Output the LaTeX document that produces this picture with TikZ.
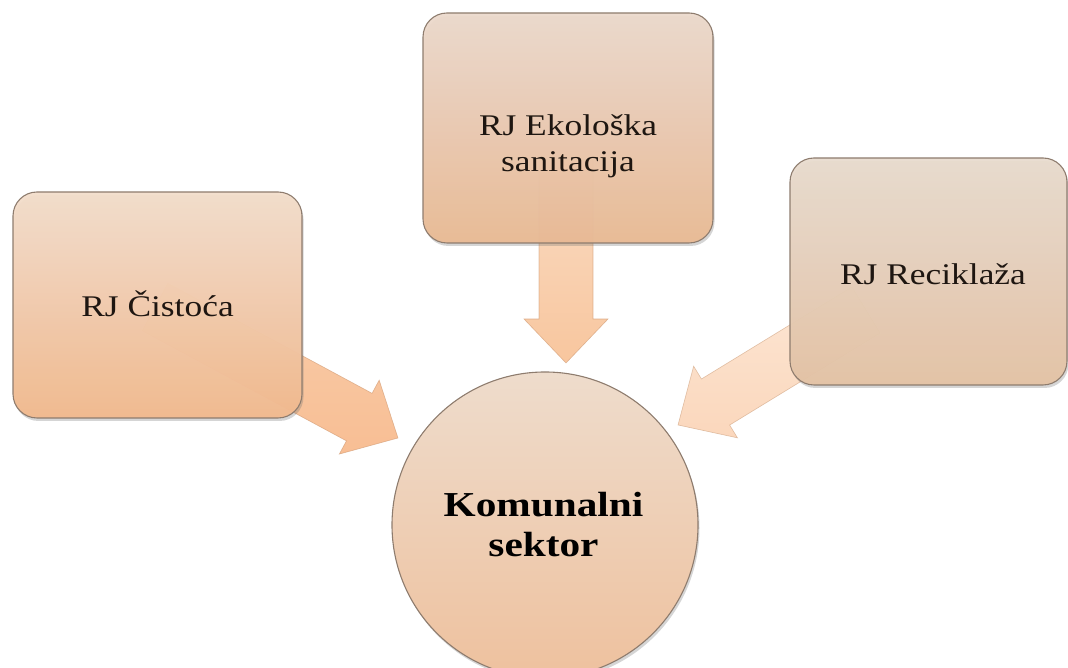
\documentclass[tikz,border=0pt]{standalone}
\usepackage{fontspec}
\setmainfont{Liberation Serif}
\newfontfamily\lblfont[FakeStretch=1.18]{Liberation Serif}
\usetikzlibrary{calc,shadows}
\definecolor{edgec}{HTML}{8E7C6E}
\definecolor{txtc}{HTML}{1E1611}
\newcommand\blockarrow[3]{%
  \path let \p1=($(#2)-(#1)$) in \pgfextra{%
    \pgfmathsetmacro\arrang{atan2(\y1,\x1)}%
    \pgfmathsetmacro\arrlen{veclen(\x1,\y1)}%
    \global\let\arrang\arrang\global\let\arrlen\arrlen};
  \begin{scope}[shift={(#1)},rotate=\arrang]
    \shade[#3] (0,-27) -- (\arrlen-44,-27) -- (\arrlen-44,-42) -- (\arrlen,0)
      -- (\arrlen-44,42) -- (\arrlen-44,27) -- (0,27) -- cycle;
  \end{scope}}
\begin{document}
\begin{tikzpicture}[x=1pt,y=1pt,
  boxnode/.style={draw=edgec, line width=1.1pt, rounded corners=24pt, fill opacity=0.965,
    inner sep=0pt, drop shadow={shadow xshift=1.5pt, shadow yshift=-3pt, opacity=.3, fill=black!55}},
  lbl/.style={text=txtc, inner sep=0pt, align=center, font=\lblfont\fontsize{30}{36}\selectfont}]
\useasboundingbox (0,0) rectangle (1068,668);
\clip (0,0) rectangle (1068,668);
% centres
\coordinate (cL) at (157.5,363);
\coordinate (cT) at (568,540);
\coordinate (cR) at (928.5,396.5);
\coordinate (cC) at (545,143);
% arrow ends
\coordinate (tailL) at (155,361);
\coordinate (tipL) at (398,230);
\coordinate (tailT) at (566,508);
\coordinate (tipT) at (566,305);
\coordinate (tailR) at (866,358);
\coordinate (tipR) at (678,243);
% arrows
\blockarrow{tailL}{tipL}{top color={rgb,255:red,249;green,205;blue,170}, bottom color={rgb,255:red,248;green,190;blue,148}, draw={rgb,255:red,205;green,150;blue,110}, draw opacity=.6, line width=.6pt}
\blockarrow{tailT}{tipT}{top color={rgb,255:red,250;green,220;blue,196}, bottom color={rgb,255:red,248;green,198;blue,158}, draw={rgb,255:red,205;green,150;blue,110}, draw opacity=.6, line width=.6pt}
\blockarrow{tailR}{tipR}{top color={rgb,255:red,252;green,230;blue,212}, bottom color={rgb,255:red,251;green,215;blue,188}, draw={rgb,255:red,205;green,160;blue,125}, draw opacity=.6, line width=.6pt}
% boxes
\node[boxnode, minimum width=289pt, minimum height=226pt,
  top color={rgb,255:red,243;green,222;blue,204}, bottom color={rgb,255:red,242;green,185;blue,142}] (boxL) at (cL) {};
\node[boxnode, minimum width=290pt, minimum height=230pt,
  top color={rgb,255:red,235;green,218;blue,205}, bottom color={rgb,255:red,233;green,186;blue,149}] (boxT) at (cT) {};
\node[boxnode, minimum width=277pt, minimum height=227pt,
  top color={rgb,255:red,232;green,220;blue,207}, bottom color={rgb,255:red,228;green,195;blue,165}] (boxR) at (cR) {};
\node[circle, draw=edgec, line width=1.1pt, minimum size=306pt, inner sep=0pt,
  top color={rgb,255:red,238;green,220;blue,204}, bottom color={rgb,255:red,238;green,193;blue,158},
  drop shadow={shadow xshift=1.5pt, shadow yshift=-3pt, opacity=.3, fill=black!55}] (circ) at (cC) {};
% labels
\node[lbl, anchor=base] (tL) at (157.5,351) {RJ Čistoća};
\node[lbl] (tT) at (568,521.5) {RJ Ekološka\\sanitacija};
\node[lbl, anchor=base] (tR) at (933,383) {RJ Reciklaža};
\node[text=black, inner sep=0pt, align=center, font=\lblfont\bfseries\fontsize{35}{40}\selectfont] (tC) at (543.5,143) {Komunalni\\sektor};
\end{tikzpicture}
\end{document}
